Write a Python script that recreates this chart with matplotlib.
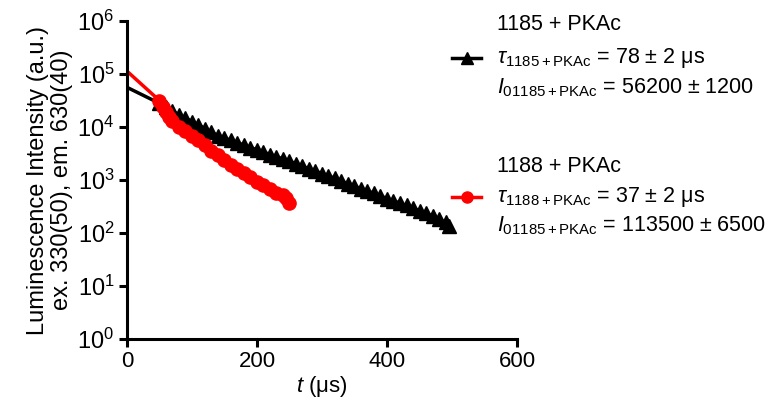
import matplotlib
matplotlib.use('Agg')
import matplotlib.pyplot as plt
from matplotlib.lines import Line2D
from matplotlib.ticker import LogLocator, FixedLocator

plt.rcParams['font.family'] = ['Liberation Sans', 'DejaVu Sans']
plt.rcParams['mathtext.fontset'] = 'custom'
plt.rcParams['mathtext.rm'] = 'Liberation Sans'
plt.rcParams['mathtext.it'] = 'Liberation Sans:italic'
plt.rcParams['mathtext.bf'] = 'Liberation Sans:bold'

# 1185 + PKAc (black), first value = fitted I0 at t = 0
t_1185 = [0, 50, 60, 70, 80, 90, 100, 110, 120, 130, 140, 150, 160, 170, 180, 190,
          200, 210, 220, 230, 240, 250, 260, 270, 280, 290, 300, 310, 320, 330,
          340, 350, 360, 370, 380, 390, 400, 410, 420, 430, 440, 450, 460, 470,
          480, 490, 495]
i_1185 = [56200, 28000, 23400, 20000, 17000, 14800, 12600, 11000, 9300, 7900, 6900,
          6200, 5600, 5000, 4600, 4100, 3700, 3400, 3000, 2750, 2500, 2250, 2050,
          1820, 1620, 1480, 1320, 1200, 1070, 955, 850, 760, 690, 620, 560, 500,
          447, 407, 363, 331, 295, 263, 234, 209, 182, 158, 135]

# 1188 + PKAc (red), first value = fitted I0 at t = 0
t_1188 = [0, 50, 55, 60, 65, 70, 80, 90, 100, 110, 120, 130, 140, 150, 160, 170, 180, 190,
          200, 210, 220, 230, 240, 245, 250]
i_1188 = [113500, 31600, 24000, 19000, 15500, 13200, 10200, 8300, 6900, 5600, 4600,
          3600, 2950, 2400, 1950, 1620, 1350, 1120, 930, 800, 680, 575, 525, 460, 370]

x_ticks = [0, 200, 400, 600]

fig = plt.figure(figsize=(7.77, 4.05), dpi=100)
ax = fig.add_axes([0.1634, 0.163, 0.502, 0.785])

ax.plot(t_1185, i_1185, color='black', lw=2.5, marker='^', ms=9.5, markevery=slice(1, None))
ax.plot(t_1188, i_1188, color='red', lw=2.5, marker='o', ms=9.5, markevery=slice(1, None))

ax.set_yscale('log')
ax.set_ylim(1, 1e6)
ax.set_xlim(0, 600)
ax.xaxis.set_major_locator(FixedLocator(x_ticks))
ax.yaxis.set_major_locator(LogLocator(base=10, numticks=10))
ax.yaxis.set_minor_locator(FixedLocator([]))

for s in ['top', 'right']:
    ax.spines[s].set_visible(False)
for s in ['left', 'bottom']:
    ax.spines[s].set_linewidth(2.2)
ax.tick_params(direction='out', length=6, width=2.2, labelsize=17, pad=3)
ax.tick_params(axis='x', labelsize=16)

ax.set_ylabel('Luminescence Intensity (a.u.)\nex. 330(50), em. 630(40)', fontsize=17,
              labelpad=3, linespacing=1.1)
ax.set_xlabel(r'$t$ ($\mathregular{\mu}$s)', fontsize=16, labelpad=1)

# legend drawn by hand
fs = 15.5
xt = 497 / 777
def fy(py):
    return 1 - py / 405

fig.text(xt, fy(24), '1185 + PKAc', fontsize=fs, va='center')
fig.text(xt, fy(58), r'$\tau_{\mathregular{1185+PKAc}}$ = 78 $\pm$ 2 $\mathregular{\mu}$s',
         fontsize=fs, va='center')
fig.text(xt, fy(88), r'$I_{0\mathregular{1185+PKAc}}$ = 56200 $\pm$ 1200',
         fontsize=fs, va='center')
fig.text(xt, fy(166), '1188 + PKAc', fontsize=fs, va='center')
fig.text(xt, fy(197), r'$\tau_{\mathregular{1188+PKAc}}$ = 37 $\pm$ 2 $\mathregular{\mu}$s',
         fontsize=fs, va='center')
fig.text(xt, fy(226), r'$I_{0\mathregular{1185+PKAc}}$ = 113500 $\pm$ 6500',
         fontsize=fs, va='center')

x0, x1 = 452 / 777, 481 / 777
fig.add_artist(Line2D([x0, x1], [fy(58), fy(58)], color='black', lw=2.5))
fig.add_artist(Line2D([(x0 + x1) / 2], [fy(58)], color='black', marker='^', ms=8))
fig.add_artist(Line2D([x0, x1], [fy(197), fy(197)], color='red', lw=2.5))
fig.add_artist(Line2D([(x0 + x1) / 2], [fy(197)], color='red', marker='o', ms=8))

fig.savefig('out.png', dpi=100)
